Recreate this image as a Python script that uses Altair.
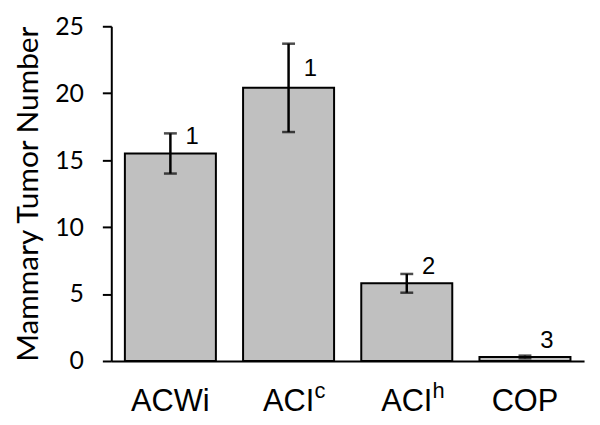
import altair as alt
import pandas as pd

categories = ["ACWi", "ACI^c", "ACI^h", "COP"]
superscripts = ["", "c", "h", ""]
means = [15.5, 20.4, 5.8, 0.3]
errors = [1.5, 3.3, 0.7, 0.1]
group_labels = ["1", "1", "2", "3"]
label_heights = [16.7, 21.8, 7.0, 1.5]

df = pd.DataFrame({
    "cat": categories,
    "sup": superscripts,
    "mean": means,
    "lo": [m - e for m, e in zip(means, errors)],
    "hi": [m + e for m, e in zip(means, errors)],
    "lab": group_labels,
    "laby": label_heights,
    "zero": [0] * len(categories),
})

FONT = "Liberation Sans"
YFONT = "Lato"

xs = alt.X("cat:N", sort=categories)
x = alt.X("cat:N", sort=categories, title=None,
          scale=alt.Scale(paddingInner=0.23, paddingOuter=0.115),
          axis=alt.Axis(labelAngle=0, labelFontSize=31, labelFont=FONT,
                        labelColor="black", labelPadding=26, ticks=False,
                        labelExpr="split(datum.label, '^')[0]",
                        domainColor="black", domainWidth=2))
y = alt.Y("mean:Q", title="Mammary Tumor Number",
          scale=alt.Scale(domain=[0, 25], nice=False),
          axis=alt.Axis(values=[0, 5, 10, 15, 20, 25], grid=False,
                        labelFontSize=25, labelFont=YFONT, labelColor="black",
                        labelPadding=19, tickSize=9, tickWidth=2, tickColor="black",
                        domainColor="black", domainWidth=2,
                        titleFontSize=30, titleFont=YFONT, titleFontWeight="normal",
                        titleColor="black", titlePadding=11))

base = alt.Chart(df)

bars = base.mark_bar(color="#c0c0c0", stroke="black", strokeWidth=2).encode(x=x, y=y)

rules = base.mark_rule(color="black", strokeWidth=2.5).encode(x=xs, y="lo:Q", y2="hi:Q")
caps_hi = base.mark_tick(color="black", thickness=2.5, size=13, orient="horizontal").encode(
    x=xs, y="hi:Q")
caps_lo = base.mark_tick(color="black", thickness=2.5, size=13, orient="horizontal").encode(
    x=xs, y="lo:Q")
labels = base.mark_text(font=FONT, fontSize=24, color="black", dx=22, baseline="middle").encode(
    x=xs, y="laby:Q", text="lab:N")
sups = base.mark_text(font=FONT, fontSize=22, color="black", dx=26, dy=37,
                      align="left", baseline="alphabetic").encode(
    x=xs, y="zero:Q", text="sup:N")

chart = alt.layer(bars, rules, caps_hi, caps_lo, labels, sups).properties(
    width=476, height=337,
    autosize=alt.AutoSizeParams(type="none"),
    padding={"left": 104, "top": 17, "right": 8, "bottom": 55},
).configure_view(stroke=None)

chart.save("out.html", embed_options={"renderer": "svg", "actions": False})
